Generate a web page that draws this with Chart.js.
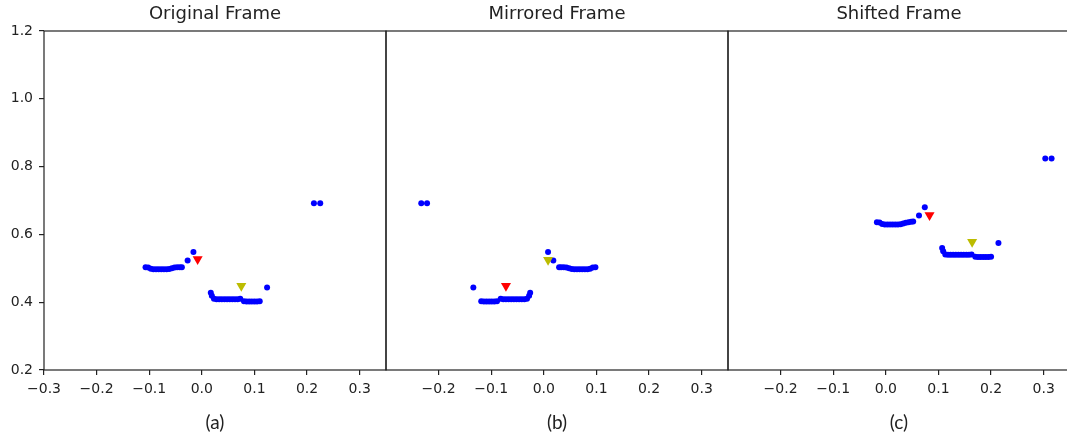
<!DOCTYPE html>
<html>
<head>
<meta charset="utf-8">
<script src="https://cdn.jsdelivr.net/npm/chart.js@4"></script>
<style>
  html, body { margin: 0; padding: 0; background: #fff; overflow: hidden; }
  #wrap { position: relative; width: 1067px; height: 434px; overflow: hidden; }
  #wrap canvas { position: absolute; top: 0; }
</style>
</head>
<body>
<div id="wrap">
  <canvas id="frame_a" width="430" height="434" style="left:0px"></canvas>
  <canvas id="frame_b" width="430" height="434" style="left:342px"></canvas>
  <canvas id="frame_c" width="430" height="434" style="left:684px"></canvas>
</div>
<script>
const panelTitles = ["Original Frame", "Mirrored Frame", "Shifted Frame"];
const panelCaptions = ["(a)", "(b)", "(c)"];
const xTicksFirst = [-0.3, -0.2, -0.1, 0.0, 0.1, 0.2, 0.3];
const xTicksRest = [-0.2, -0.1, 0.0, 0.1, 0.2, 0.3];
const yTicks = [0.2, 0.4, 0.6, 0.8, 1.0, 1.2];

// original frame
const origX = [-0.107, -0.102, -0.097, -0.092, -0.087, -0.082, -0.077, -0.072, -0.067, -0.062, -0.057, -0.052, -0.047, -0.042, -0.038, -0.027, -0.016,
  0.017, 0.019, 0.023, 0.028, 0.033, 0.038, 0.043, 0.048, 0.053, 0.058, 0.063, 0.068, 0.073, 0.080, 0.085, 0.090, 0.095, 0.100, 0.105, 0.110, 0.124, 0.213, 0.225];
const origY = [0.503, 0.502, 0.499, 0.497, 0.497, 0.497, 0.497, 0.497, 0.497, 0.498, 0.500, 0.502, 0.503, 0.503, 0.503, 0.523, 0.548,
  0.428, 0.419, 0.410, 0.409, 0.409, 0.409, 0.409, 0.409, 0.409, 0.409, 0.409, 0.409, 0.410, 0.403, 0.402, 0.402, 0.402, 0.402, 0.402, 0.403, 0.443, 0.692, 0.692];
const origRedX = [-0.008], origRedY = [0.527];
const origYelX = [0.075], origYelY = [0.448];

// mirrored frame
const mirrX = [0.098, 0.093, 0.088, 0.083, 0.078, 0.073, 0.068, 0.063, 0.058, 0.053, 0.048, 0.043, 0.038, 0.033, 0.029, 0.018, 0.008,
  -0.026, -0.028, -0.032, -0.037, -0.042, -0.047, -0.052, -0.057, -0.062, -0.067, -0.072, -0.077, -0.082, -0.089, -0.094, -0.099, -0.104, -0.109, -0.114, -0.119, -0.134, -0.222, -0.233];
const mirrY = [0.503, 0.502, 0.499, 0.497, 0.497, 0.497, 0.497, 0.497, 0.497, 0.498, 0.500, 0.502, 0.503, 0.503, 0.503, 0.523, 0.548,
  0.428, 0.419, 0.410, 0.409, 0.409, 0.409, 0.409, 0.409, 0.409, 0.409, 0.409, 0.409, 0.410, 0.403, 0.402, 0.402, 0.402, 0.402, 0.402, 0.403, 0.443, 0.692, 0.692];
const mirrRedX = [-0.072], mirrRedY = [0.448];
const mirrYelX = [0.008], mirrYelY = [0.525];

// shifted frame
const shiftX = [-0.017, -0.012, -0.007, -0.002, 0.003, 0.008, 0.013, 0.018, 0.023, 0.028, 0.033, 0.038, 0.043, 0.048, 0.052, 0.063, 0.074,
  0.107, 0.109, 0.113, 0.118, 0.123, 0.128, 0.133, 0.138, 0.143, 0.148, 0.153, 0.158, 0.163, 0.170, 0.175, 0.180, 0.185, 0.190, 0.195, 0.200, 0.214, 0.303, 0.315];
const shiftY = [0.636, 0.635, 0.631, 0.629, 0.629, 0.629, 0.629, 0.629, 0.629, 0.630, 0.632, 0.634, 0.636, 0.637, 0.638, 0.656, 0.680,
  0.560, 0.550, 0.541, 0.540, 0.540, 0.540, 0.540, 0.540, 0.540, 0.540, 0.540, 0.540, 0.541, 0.534, 0.533, 0.533, 0.533, 0.533, 0.533, 0.534, 0.575, 0.824, 0.824];
const shiftRedX = [0.083], shiftRedY = [0.657];
const shiftYelX = [0.164], shiftYelY = [0.578];

const INK = "#222";
const tickFont = { family: "DejaVu Sans", size: 14 };

function pts(xs, ys) {
  return xs.map((x, i) => ({ x: x, y: ys[i] }));
}

function fmt(v) {
  return (v < -1e-9 ? "\u2212" : "") + Math.abs(v).toFixed(1);
}

// matplotlib-style box around the plot area
const framePlugin = {
  id: "frame",
  afterDraw(chart) {
    const { ctx, chartArea: a } = chart;
    ctx.save();
    ctx.strokeStyle = INK;
    ctx.lineWidth = 1.2;
    ctx.strokeRect(a.left, a.top, a.right - a.left, a.bottom - a.top);
    ctx.restore();
  },
};

function triangle(data, color) {
  return {
    data: data,
    pointStyle: "triangle",
    rotation: 180,
    pointRadius: 5.8,
    pointHoverRadius: 5.8,
    pointBorderWidth: 0,
    backgroundColor: color,
    borderColor: color,
  };
}

function makeFrame(id, idx, dots, red, yel, xTicks, showY) {
  new Chart(document.getElementById(id), {
    type: "scatter",
    data: {
      datasets: [
        triangle(red, "#ff0000"),
        triangle(yel, "#bcbc00"),
        {
          data: dots,
          pointRadius: 3,
          pointHoverRadius: 3,
          pointBorderWidth: 0,
          backgroundColor: "#0000ff",
          borderColor: "#0000ff",
        },
      ],
    },
    options: {
      responsive: false,
      animation: false,
      events: [],
      layout: { padding: { left: showY ? 0 : 44, right: 44, top: 0, bottom: 0 } },
      plugins: {
        legend: { display: false },
        tooltip: { enabled: false },
      },
      scales: {
        x: {
          type: "linear",
          min: -0.3,
          max: 0.35,
          afterBuildTicks: (s) => { s.ticks = xTicks.map((v) => ({ value: v })); },
          afterFit: (s) => { s.height = 64; },
          border: { display: false },
          grid: { display: true, drawOnChartArea: false, drawTicks: true, tickLength: 5, color: INK, lineWidth: 1.2 },
          ticks: { font: tickFont, color: INK, padding: 6, maxRotation: 0, autoSkip: false, callback: fmt },
          title: {
            display: true,
            text: panelCaptions[idx],
            color: INK,
            font: { family: "Lato", size: 19 },
            padding: { top: 0, bottom: 0 },
          },
        },
        // top axis only carries the panel title
        top: {
          type: "linear",
          position: "top",
          min: -0.3,
          max: 0.35,
          afterFit: (s) => { s.height = 31; },
          border: { display: false },
          grid: { display: false },
          ticks: { display: false },
          title: {
            display: true,
            text: panelTitles[idx],
            color: INK,
            font: { family: "DejaVu Sans", size: 18 },
            padding: { top: 4, bottom: 0 },
          },
        },
        y: {
          type: "linear",
          display: showY,
          min: 0.2,
          max: 1.2,
          afterBuildTicks: (s) => { s.ticks = yTicks.map((v) => ({ value: v })); },
          afterFit: (s) => { if (showY) s.width = 44; },
          border: { display: false },
          grid: { display: true, drawOnChartArea: false, drawTicks: true, tickLength: 5, color: INK, lineWidth: 1.2 },
          ticks: { font: tickFont, color: INK, padding: 6, autoSkip: false, callback: fmt },
        },
      },
    },
    plugins: [framePlugin],
  });
}

makeFrame("frame_a", 0, pts(origX, origY), pts(origRedX, origRedY), pts(origYelX, origYelY), xTicksFirst, true);
makeFrame("frame_b", 1, pts(mirrX, mirrY), pts(mirrRedX, mirrRedY), pts(mirrYelX, mirrYelY), xTicksRest, false);
makeFrame("frame_c", 2, pts(shiftX, shiftY), pts(shiftRedX, shiftRedY), pts(shiftYelX, shiftYelY), xTicksRest, false);
</script>
</body>
</html>
